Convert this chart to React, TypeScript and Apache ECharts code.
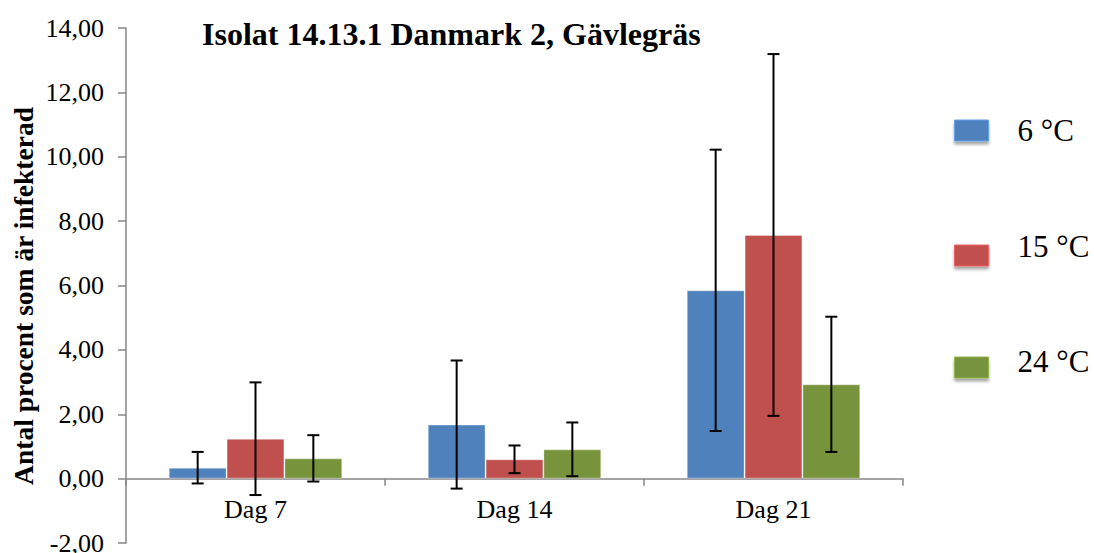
import React, { useEffect, useRef } from "react";
import * as echarts from "echarts";

const categories = ["Dag 7", "Dag 14", "Dag 21"];
const seriesNames = ["6 °C", "15 °C", "24 °C"];
const colors = ["#4F81BD", "#C0504D", "#77933C"];
const means6 = [0.34, 1.68, 5.85];
const means15 = [1.24, 0.6, 7.57];
const means24 = [0.63, 0.91, 2.93];
const err6 = [0.49, 1.99, 4.37];
const err15 = [1.75, 0.43, 5.62];
const err24 = [0.72, 0.835, 2.1];
const yTicks = [-2, 0, 2, 4, 6, 8, 10, 12, 14];
const title = "Isolat 14.13.1 Danmark 2, Gävlegräs";
const yName = "Antal procent som är infekterad";

const FONT = "Times New Roman, Liberation Serif, serif";
const CAT_GAP = 0.33;

export default function App() {
  const ref = useRef<HTMLDivElement>(null);
  useEffect(() => {
    document.body.style.margin = "0";
    if (!ref.current) return;
    const chart = echarts.init(ref.current, null, { renderer: "svg" });
    const means = [means6, means15, means24];
    const errs = [err6, err15, err24];

    const barSeries = seriesNames.map((name, i) => ({
      name,
      type: "bar",
      data: means[i],
      barGap: "0%",
      barCategoryGap: CAT_GAP * 100 + "%",
      itemStyle: { color: colors[i], borderColor: "rgba(255,255,255,0.35)", borderWidth: 1 },
      z: 2,
    }));

    const errSeries = seriesNames.map((name, s) => ({
      name: name + " err",
      type: "custom",
      z: 5,
      silent: true,
      data: categories.map((_, c) => [c, means[s][c] - errs[s][c], means[s][c] + errs[s][c]]),
      encode: { x: 0, y: [1, 2] },
      renderItem: (params: any, api: any) => {
        const c = api.value(0);
        const lo = api.coord([c, api.value(1)]);
        const hi = api.coord([c, api.value(2)]);
        const band = api.size([1, 0])[0];
        const bw = (band * (1 - CAT_GAP)) / 3;
        const x = lo[0] + (s - 1) * bw;
        const cap = 6;
        const style = { stroke: "#000", lineWidth: 2 };
        return {
          type: "group",
          children: [
            { type: "line", shape: { x1: x, y1: hi[1], x2: x, y2: lo[1] }, style },
            { type: "line", shape: { x1: x - cap, y1: hi[1], x2: x + cap, y2: hi[1] }, style },
            { type: "line", shape: { x1: x - cap, y1: lo[1], x2: x + cap, y2: lo[1] }, style },
          ],
        };
      },
    }));

    const legendTops = [115, 231, 346];
    const legendTextLift = [0, 18, 12];
    const legends = seriesNames.map((name, i) => ({
      data: [name],
      left: 954,
      top: legendTops[i],
      padding: 0,
      orient: "vertical",
      itemWidth: 34,
      itemHeight: 21,
      icon: "rect",
      selectedMode: false,
      formatter: (n: string) => "{t|" + n + "}",
      itemStyle: {
        borderColor: echarts.color.lift(colors[i], -0.25) as any,
        borderWidth: 1,
        shadowColor: "rgba(0,0,0,0.35)",
        shadowBlur: 3,
        shadowOffsetY: 3,
      },
      textStyle: {
        fontFamily: FONT,
        fontSize: 31,
        color: "#000",
        rich: {
          t: {
            fontFamily: FONT,
            fontSize: 31,
            color: "#000",
            padding: [0, 0, legendTextLift[i], 24],
          },
        },
      },
    }));

    chart.setOption({
      animation: false,
      textStyle: { fontFamily: FONT },
      color: colors,
      title: {
        text: title,
        left: 202,
        top: 18,
        padding: 0,
        textStyle: { fontFamily: FONT, fontSize: 32, fontWeight: "bold", color: "#000" },
      },
      legend: legends,
      graphic: [
        {
          type: "text",
          x: 23,
          y: 296,
          rotation: Math.PI / 2,
          style: {
            text: yName,
            fontFamily: FONT,
            fontSize: 27.5,
            fontWeight: "bold",
            fill: "#000",
            align: "center",
            verticalAlign: "middle",
          },
        },
      ],
      grid: { left: 126, right: 191, top: 28, bottom: 10, outerBoundsMode: "none", containLabel: false },
      xAxis: {
        type: "category",
        data: categories,
        axisLine: { onZero: true, lineStyle: { color: "#868686", width: 1.5 } },
        axisTick: { show: true, length: 7, alignWithLabel: false, lineStyle: { color: "#868686", width: 1.5 } },
        axisLabel: { fontFamily: FONT, fontSize: 26, color: "#000", margin: -47 },
      },
      yAxis: {
        type: "value",
        min: yTicks[0],
        max: yTicks[yTicks.length - 1],
        interval: 2,
        axisLine: { show: true, lineStyle: { color: "#868686", width: 1.5 } },
        axisTick: { show: true, inside: false, length: 8, lineStyle: { color: "#868686", width: 1.5 } },
        splitLine: { show: false },
        axisLabel: {
          fontFamily: FONT,
          fontSize: 26,
          color: "#000",
          margin: 22,
          formatter: (v: number) => v.toFixed(2).replace(".", ","),
        },
      },
      series: [...barSeries, ...errSeries],
    });
    return () => chart.dispose();
  }, []);
  return <div ref={ref} style={{ width: 1094, height: 553 }} />;
}
